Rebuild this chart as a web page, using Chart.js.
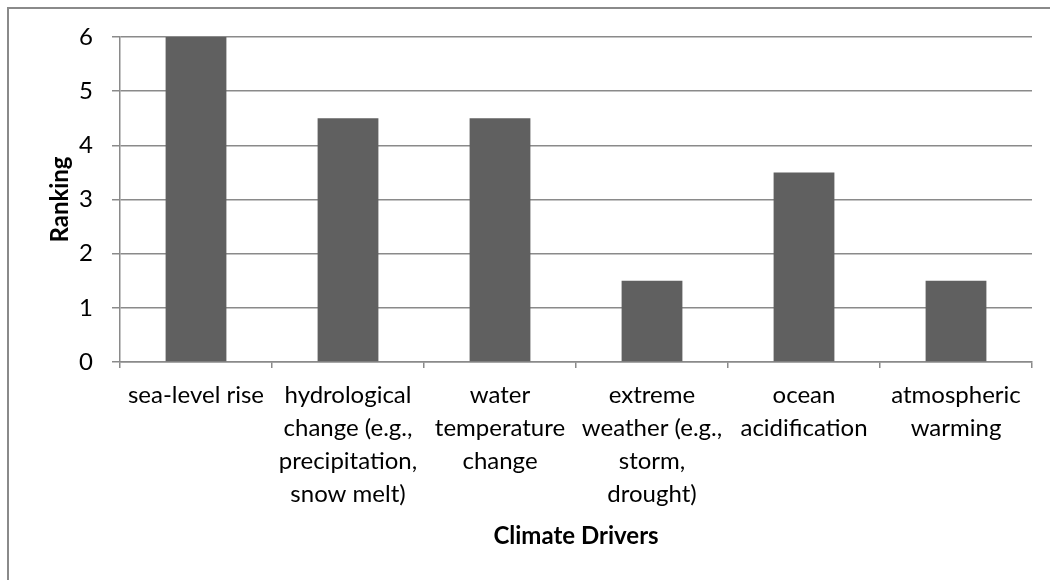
<!DOCTYPE html>
<html>
<head>
<meta charset="utf-8">
<script src="https://cdn.jsdelivr.net/npm/chart.js@4"></script>
<style>
    html, body { margin: 0; padding: 0; background: #fff; overflow: hidden; }
    #wrap { width: 1050px; height: 580px; }
</style>
</head>
<body>
<div id="wrap"><canvas id="myChart" width="1050" height="580"></canvas></div>
<script>
// Chart data
const drivers = [
    'sea-level rise',
    ['hydrological', 'change (e.g.,', 'precipitation,', 'snow melt)'],
    ['water', 'temperature', 'change'],
    ['extreme', 'weather (e.g.,', 'storm,', 'drought)'],
    ['ocean', 'acidification'],
    ['atmospheric', 'warming']
];
const rankings = [6, 4.5, 4.5, 1.5, 3.5, 1.5];
const yTicks = [0, 1, 2, 3, 4, 5, 6];

const FONT = 'Lato, sans-serif';
const GRID = '#8a8a8a';

// outer frame of the chart box (only left and top edges are visible)
const framePlugin = {
    id: 'frame',
    beforeDraw(chart) {
        const c = chart.ctx;
        c.save();
        c.strokeStyle = GRID;
        c.lineWidth = 2;
        c.beginPath();
        c.moveTo(8, 600);
        c.lineTo(8, 8);
        c.lineTo(1100, 8);
        c.stroke();
        c.restore();
    }
};

const ctx = document.getElementById('myChart').getContext('2d');
new Chart(ctx, {
    type: 'bar',
    data: {
        labels: drivers,
        datasets: [{
            data: rankings,
            backgroundColor: '#606060',
            barPercentage: 0.4,
            categoryPercentage: 1
        }]
    },
    options: {
        responsive: false,
        animation: false,
        layout: { padding: { left: 0, right: 18, top: 37, bottom: 0 } },
        plugins: {
            legend: { display: false },
            tooltip: { enabled: false }
        },
        scales: {
            x: {
                offset: true,
                grid: {
                    offset: true,
                    drawOnChartArea: false,
                    drawTicks: true,
                    tickLength: 6,
                    color: GRID,
                    lineWidth: 1.5
                },
                border: { color: GRID, width: 1.5 },
                ticks: {
                    autoSkip: false,
                    maxRotation: 0,
                    minRotation: 0,
                    padding: 11,
                    color: '#000',
                    font: { family: FONT, size: 24, lineHeight: 1.375 }
                },
                title: {
                    display: true,
                    text: 'Climate Drivers',
                    color: '#000',
                    padding: { top: 0, bottom: 29 },
                    font: { family: FONT, size: 24, weight: 'bold' }
                },
                afterFit(scale) { scale.height = 218; }
            },
            y: {
                min: 0,
                max: 6,
                afterBuildTicks(scale) {
                    scale.ticks = yTicks.map(v => ({ value: v }));
                },
                grid: {
                    color: GRID,
                    lineWidth: 1.5,
                    drawTicks: true,
                    tickLength: 8
                },
                border: { color: GRID, width: 1.5 },
                ticks: {
                    padding: 19,
                    color: '#000',
                    font: { family: FONT, size: 24 }
                },
                title: {
                    display: true,
                    text: 'Ranking',
                    color: '#000',
                    padding: { top: 46, bottom: 0 },
                    font: { family: FONT, size: 24, weight: 'bold' }
                },
                afterFit(scale) { scale.width = 120; }
            }
        }
    },
    plugins: [framePlugin]
});
</script>
</body>
</html>
